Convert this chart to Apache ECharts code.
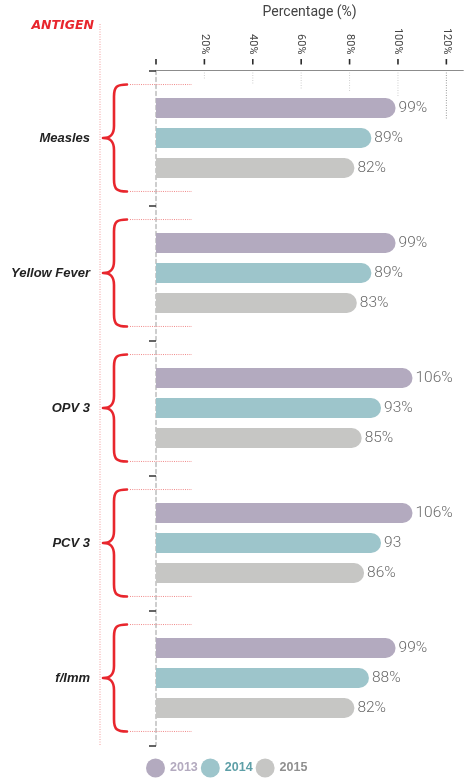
<!DOCTYPE html>
<html>
<head>
<meta charset="utf-8">
<script src="https://cdn.jsdelivr.net/npm/echarts@6/dist/echarts.min.js"></script>
<style>
html,body{margin:0;padding:0;background:#fff;}
#c{width:470px;height:778px;}
</style>
</head>
<body>
<div id="c"></div>
<script>
// ---- data ----
const categories = ['Measles', 'Yellow Fever', 'OPV 3', 'PCV 3', 'f/Imm'];
const years = ['2013', '2014', '2015'];
const values2013 = [99, 99, 106, 106, 99];
const values2014 = [89, 89, 93, 93, 88];
const values2015 = [82, 83, 85, 86, 82];
const tickValues = [0, 20, 40, 60, 80, 100, 120];
const tickLabelValues = [20, 40, 60, 80, 100, 120];
// label of PCV 3 / 2014 is printed without a percent sign in the source
const noPercent = {'1-3': true};

// ---- styles ----
const colors = ['#b3aabf', '#9dc5cb', '#c6c6c4'];
const legendTextColors = ['#b3aabf', '#5d9fa7', '#8f8f8f'];
const red = '#e8262d';
const thin = 'Roboto, "Liberation Sans", sans-serif';
const bold = '"Liberation Sans", Arial, sans-serif';

const chart = echarts.init(document.getElementById('c'), null, {renderer: 'canvas'});

function barSeries(name, data, idx) {
  return {
    name: name,
    type: 'bar',
    xAxisIndex: 0,
    yAxisIndex: 0,
    data: data,
    barWidth: 20,
    barGap: '50%',
    itemStyle: {color: colors[idx], borderRadius: [0, 10, 10, 0]},
    label: {
      show: true,
      position: 'right',
      distance: 3,
      color: '#6a6a6a',
      fontFamily: thin,
      fontWeight: 300,
      fontSize: 15.5,
      formatter: p => p.value + (noPercent[p.seriesIndex + '-' + p.dataIndex] ? '' : '%')
    },
    emphasis: {disabled: true},
    z: 3
  };
}

const stubLen = [7, 11, 16, 20, 24, 46];

const option = {
  animation: false,
  backgroundColor: '#fff',
  grid: {left: 156, top: 70.5, width: 307.3, height: 675, outerBoundsMode: 'none', containLabel: false},
  xAxis: [
    {
      type: 'value', position: 'top', min: 0, max: 127,
      axisLine: {show: true, lineStyle: {color: '#8c8c8c', width: 1}},
      axisTick: {show: false}, axisLabel: {show: false}, splitLine: {show: false}
    },
    {
      type: 'value', position: 'top', min: 0, max: 127, offset: 6,
      name: 'Percentage (%)', nameLocation: 'middle', nameGap: 50,
      nameTextStyle: {fontFamily: thin, fontSize: 14, color: '#444', verticalAlign: 'middle'},
      axisLine: {show: false},
      axisTick: {show: false},
      axisLabel: {show: true, customValues: tickLabelValues, rotate: 90, margin: 10,
        fontFamily: thin, fontSize: 11, color: '#444', formatter: v => v + '%'},
      splitLine: {show: false}
    }
  ],
  yAxis: [
    {
      type: 'category', data: categories, inverse: true,
      axisLine: {show: true, lineStyle: {color: '#bdbdbd', width: 1.5, type: [4, 3]}},
      axisTick: {show: false},
      axisLabel: {margin: 66, fontFamily: bold, fontWeight: 'bold', fontStyle: 'italic', fontSize: 13, color: '#222'}
    },
    {
      type: 'category', data: categories, inverse: true, position: 'left', offset: 8,
      axisLine: {show: false},
      axisTick: {show: true, length: 7, lineStyle: {color: '#333', width: 1.5}},
      axisLabel: {show: false}
    }
  ],
  legend: {
    data: years.map((y, i) => ({name: y, textStyle: {color: legendTextColors[i]}})),
    left: 146, top: 758.5, padding: 0,
    icon: 'circle', itemWidth: 19, itemHeight: 19, itemGap: 3,
    selectedMode: false,
    textStyle: {fontFamily: bold, fontWeight: 'bold', fontSize: 12.5}
  },
  graphic: [
    {type: 'line', shape: {x1: 100, y1: 24, x2: 100, y2: 746},
     style: {stroke: '#f39a9a', lineWidth: 1, lineDash: [1, 1.5]}},
    {type: 'text', x: 94, y: 26,
     style: {text: 'ANTIGEN', fill: red, font: 'italic bold 12.5px "DejaVu Sans", sans-serif', align: 'right', verticalAlign: 'middle'}}
  ],
  series: [
    barSeries(years[0], values2013, 0),
    barSeries(years[1], values2014, 1),
    barSeries(years[2], values2015, 2),
    {
      // tick marks above the top axis
      type: 'custom', xAxisIndex: 0, yAxisIndex: 0, silent: true,
      data: tickValues.map(v => [v, 0]),
      encode: {x: 0, y: 1},
      renderItem: function (params, api) {
        const x = api.coord([api.value(0), 0])[0];
        const y0 = params.coordSys.y;
        return {
          type: 'line',
          shape: {x1: x, y1: y0 - 11.5, x2: x, y2: y0 - 6},
          style: {stroke: '#2a2a2a', lineWidth: 1.6}
        };
      },
      z: 4
    },
    {
      // short dotted guide stubs below the top axis
      type: 'custom', xAxisIndex: 0, yAxisIndex: 0, silent: true,
      data: tickLabelValues.map(v => [v, 0]),
      encode: {x: 0, y: 1},
      renderItem: function (params, api) {
        const x = api.coord([api.value(0), 0])[0];
        const y0 = params.coordSys.y + 2;
        const i = params.dataIndex;
        return {
          type: 'line',
          shape: {x1: x, y1: y0, x2: x, y2: y0 + stubLen[i]},
          style: {stroke: i === 5 ? '#999' : '#cfcfcf', lineWidth: 1, lineDash: [1, 1.5]}
        };
      },
      z: 1
    },
    {
      // red braces per antigen group
      type: 'custom', xAxisIndex: 0, yAxisIndex: 0, silent: true,
      data: categories.map((c, i) => [0, i]),
      encode: {x: 0, y: 1},
      renderItem: function (params, api) {
        const cy = api.coord([0, api.value(1)])[1];
        const half = api.size([0, 1])[1] * 0.396;
        const x0 = params.coordSys.x;
        const top = cy - half, bot = cy + half;
        const hx = x0 - 29, vx = x0 - 42, tx = x0 - 53;
        const path =
          'M' + hx + ' ' + top +
          ' C' + (vx + 3) + ' ' + top + ' ' + vx + ' ' + (top + 2) + ' ' + vx + ' ' + (top + 12) +
          ' L' + vx + ' ' + (cy - 12) +
          ' C' + vx + ' ' + (cy - 3) + ' ' + (vx - 4) + ' ' + cy + ' ' + tx + ' ' + cy +
          ' C' + (vx - 4) + ' ' + cy + ' ' + vx + ' ' + (cy + 3) + ' ' + vx + ' ' + (cy + 12) +
          ' L' + vx + ' ' + (bot - 12) +
          ' C' + vx + ' ' + (bot - 2) + ' ' + (vx + 3) + ' ' + bot + ' ' + hx + ' ' + bot;
        return {
          type: 'group',
          children: [
            {type: 'path', shape: {pathData: path},
             style: {stroke: red, lineWidth: 2.6, fill: null, lineCap: 'round', lineJoin: 'round'}},
            {type: 'line', shape: {x1: x0 - 26, y1: top, x2: x0 + 36, y2: top},
             style: {stroke: '#f08a8a', lineWidth: 1, lineDash: [1, 1.2]}},
            {type: 'line', shape: {x1: x0 - 26, y1: bot, x2: x0 + 36, y2: bot},
             style: {stroke: '#f08a8a', lineWidth: 1, lineDash: [1, 1.2]}}
          ]
        };
      },
      z: 2
    }
  ]
};
chart.setOption(option);
</script>
</body>
</html>
